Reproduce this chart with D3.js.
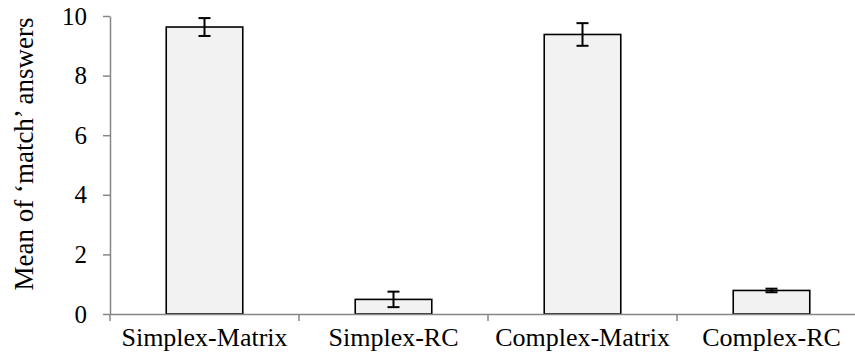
<!DOCTYPE html>
<html>
<head>
<meta charset="utf-8">
<script src="https://cdn.jsdelivr.net/npm/d3@7"></script>
<style>
  body { margin: 0; background: #fff; }
  svg { display: block; }
</style>
</head>
<body>
<svg width="855" height="362"></svg>
<script>
const categories = ["Simplex-Matrix", "Simplex-RC", "Complex-Matrix", "Complex-RC"];
const means = [9.63, 0.49, 9.38, 0.79];
const errors = [0.30, 0.26, 0.38, 0.06];
const yTicks = [0, 2, 4, 6, 8, 10];

var svg = d3.select("svg");
var font = "'Liberation Serif', 'Times New Roman', serif";
var axisColor = "#868686";

var plotLeft = 110, plotTop = 16, plotBottom = 314;
var step = 189;

var x = d3.scaleBand()
  .domain(categories)
  .range([plotLeft, plotLeft + step * categories.length])
  .padding(0);

var y = d3.scaleLinear()
  .domain([0, 10])
  .range([plotBottom, plotTop]);

var barW = x.bandwidth() * 0.405;

// bars
svg.selectAll("rect.bar")
  .data(categories)
  .enter()
  .append("rect")
  .attr("class", "bar")
  .attr("x", function(d) { return x(d) + (x.bandwidth() - barW) / 2; })
  .attr("y", function(d, i) { return y(means[i]); })
  .attr("width", barW)
  .attr("height", function(d, i) { return y(0) - y(means[i]); })
  .attr("fill", "#f2f2f2")
  .attr("stroke", "#000")
  .attr("stroke-width", 1.6);

// error bars
var eb = svg.selectAll("g.err")
  .data(categories)
  .enter()
  .append("g")
  .attr("class", "err")
  .attr("transform", function(d) { return "translate(" + (x(d) + x.bandwidth() / 2) + ",0)"; });

eb.append("line")
  .attr("y1", function(d, i) { return y(means[i] + errors[i]); })
  .attr("y2", function(d, i) { return y(means[i] - errors[i]); })
  .attr("stroke", "#000").attr("stroke-width", 2);
eb.append("line")
  .attr("x1", -6).attr("x2", 6)
  .attr("y1", function(d, i) { return y(means[i] + errors[i]); })
  .attr("y2", function(d, i) { return y(means[i] + errors[i]); })
  .attr("stroke", "#000").attr("stroke-width", 2);
eb.append("line")
  .attr("x1", -6).attr("x2", 6)
  .attr("y1", function(d, i) { return y(means[i] - errors[i]); })
  .attr("y2", function(d, i) { return y(means[i] - errors[i]); })
  .attr("stroke", "#000").attr("stroke-width", 2);

// y axis
var yAxis = svg.append("g")
  .attr("transform", "translate(" + plotLeft + ",0)")
  .call(d3.axisLeft(y).tickValues(yTicks).tickSize(7).tickPadding(16).tickSizeOuter(0));
yAxis.select(".domain").attr("stroke", axisColor).attr("stroke-width", 1.5);
yAxis.selectAll(".tick line").attr("stroke", axisColor).attr("stroke-width", 1.5);
yAxis.selectAll(".tick text")
  .attr("fill", "#000")
  .style("font-family", font)
  .style("font-size", "25px");

// x axis
var xAxis = svg.append("g")
  .attr("transform", "translate(0," + plotBottom + ")")
  .call(d3.axisBottom(x).tickSize(0).tickPadding(14).tickSizeOuter(0));
xAxis.select(".domain").attr("stroke", axisColor).attr("stroke-width", 1.5);
xAxis.selectAll(".tick text")
  .attr("fill", "#000")
  .style("font-family", font)
  .style("font-size", "26px");

// category boundary ticks
var bounds = categories.map(function(d) { return x(d); }).concat([x.range()[1]]);
xAxis.selectAll("line.bound")
  .data(bounds)
  .enter()
  .append("line")
  .attr("class", "bound")
  .attr("x1", function(d) { return d; })
  .attr("x2", function(d) { return d; })
  .attr("y1", 0).attr("y2", 7)
  .attr("stroke", axisColor).attr("stroke-width", 1.5);

// y title
svg.append("text")
  .attr("transform", "translate(33,154) rotate(-90)")
  .attr("text-anchor", "middle")
  .style("font-family", font)
  .style("font-size", "27px")
  .text("Mean of \u2018match\u2019 answers");
</script>
</body>
</html>
